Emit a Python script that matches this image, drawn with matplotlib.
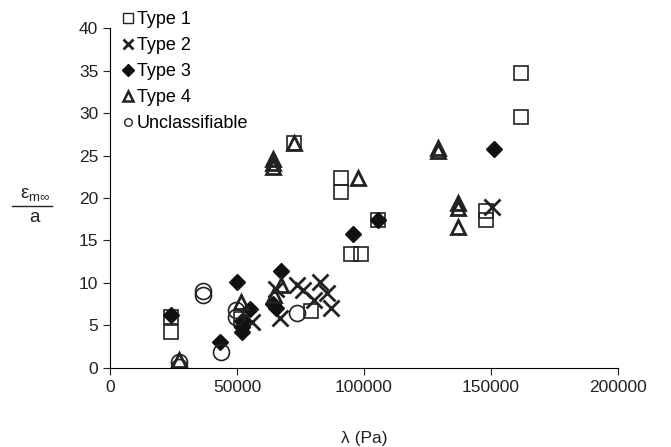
import matplotlib
matplotlib.use("Agg")
import matplotlib.pyplot as plt
from matplotlib.lines import Line2D

plt.rcParams['font.family'] = ['Liberation Sans', 'DejaVu Sans']

# Type 1 (open squares)
x1 = [162000, 162000, 91000, 91000, 95000, 99000, 105500, 148000, 148000, 72500, 24000, 24000, 79000, 51500]
y1 = [34.7, 29.5, 22.4, 20.7, 13.4, 13.4, 17.4, 18.5, 17.4, 26.5, 6.0, 4.2, 6.7, 5.7]
# Type 2 (crosses)
x2 = [56000, 65500, 67000, 73500, 76000, 80500, 82500, 85500, 87000, 150500]
y2 = [5.4, 9.3, 5.9, 9.8, 9.2, 8.0, 10.1, 8.8, 7.0, 19.0]
# Type 3 (filled diamonds)
x3 = [151000, 105500, 95500, 67500, 50000, 24000, 43300, 55000, 52000, 52000, 52000, 64000, 65500]
y3 = [25.8, 17.4, 15.8, 11.4, 10.1, 6.2, 3.1, 6.9, 5.5, 4.8, 4.2, 7.5, 7.0]
# Type 4 (open triangles)
x4 = [129000, 129000, 137000, 137000, 137000, 97500, 72500, 64000, 64000, 64000, 27000, 51500, 67500, 64500]
y4 = [25.9, 25.5, 19.4, 18.8, 16.6, 22.3, 26.5, 24.6, 24.1, 23.7, 0.9, 7.8, 9.8, 8.6]
# Unclassifiable (open circles)
x5 = [27000, 27000, 36600, 36600, 43700, 49500, 49500, 73500]
y5 = [0.1, 0.7, 8.6, 9.0, 1.9, 6.8, 6.0, 6.5]

fig = plt.figure(figsize=(6.71, 4.47), dpi=100)
ax = fig.add_axes([0.164, 0.177, 0.757, 0.76])

ax.plot(x1, y1, 's', ms=10.5, mfc='none', mec='#222222', mew=1.2, ls='none')
ax.plot(x2, y2, 'x', ms=11, mec='#222222', mew=2.0, ls='none')
ax.plot(x3, y3, 'D', ms=8.5, mfc='#111111', mec='#111111', ls='none')
ax.plot(x4, y4, '^', ms=10, mfc='none', mec='#222222', mew=2.0, ls='none')
ax.plot(x5, y5, 'o', ms=11.5, mfc='none', mec='#222222', mew=1.2, ls='none')

ax.set_xlim(0, 200000)
ax.set_ylim(0, 40)
ax.set_xticks([0, 50000, 100000, 150000, 200000])
ax.set_yticks(range(0, 45, 5))
ax.spines['top'].set_visible(False)
ax.spines['right'].set_visible(False)
ax.tick_params(direction='out', length=5, labelsize=12.5, colors='#222222')
ax.set_xlabel('λ (Pa)', fontsize=12.5, labelpad=26, color='#222222')

# fraction style y label
fig.text(0.052, 0.545, r'$\mathregular{ε_{m∞}}$', ha='center', va='bottom', fontsize=13.5, color='#222222')
fig.add_artist(Line2D([0.018, 0.078], [0.54, 0.54], color='#222222', lw=1.0))
fig.text(0.052, 0.533, 'a', ha='center', va='top', fontsize=13.5, color='#222222')

handles = [
    Line2D([], [], marker='s', ms=6.5, mfc='none', mec='#222222', mew=1.0, ls='none'),
    Line2D([], [], marker='x', ms=6.5, mec='#222222', mew=2.0, ls='none'),
    Line2D([], [], marker='D', ms=6, mfc='#111111', mec='#111111', ls='none'),
    Line2D([], [], marker='^', ms=6.5, mfc='none', mec='#222222', mew=1.8, ls='none'),
    Line2D([], [], marker='o', ms=5.5, mfc='none', mec='#222222', mew=1.0, ls='none'),
]
labels = ['Type 1', 'Type 2', 'Type 3', 'Type 4', 'Unclassifiable']
fig.legend(handles, labels, loc='upper left', bbox_to_anchor=(0.162, 1.004), frameon=False,
           fontsize=13, handlelength=0.7, handletextpad=0.15, labelspacing=0.5, borderpad=0.2)

fig.savefig('out.png', dpi=100)
